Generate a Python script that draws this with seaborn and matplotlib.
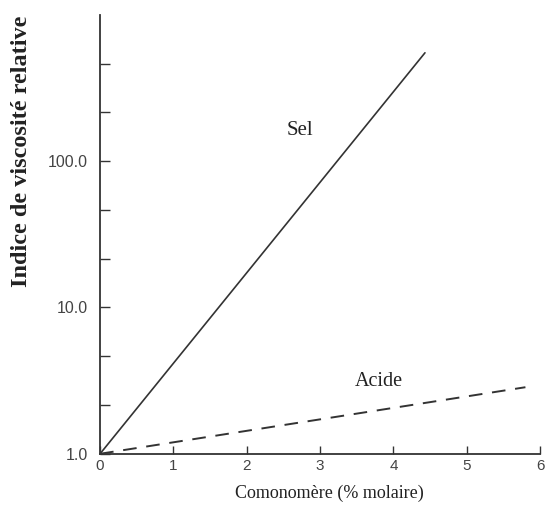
import numpy as np
import pandas as pd
import matplotlib
matplotlib.use('Agg')
import matplotlib.pyplot as plt
import matplotlib.ticker as mticker
import seaborn as sns

# values (straight lines on a log axis)
sel_x = [0.0, 4.43]
sel_y = [1.0, 550.0]
acide_x = [0.0, 5.8]
acide_y = [1.0, 2.85]

x_ticks = [0, 1, 2, 3, 4, 5, 6]
y_major = [1, 10, 100]
y_labels = ['1.0', '10.0', '100.0']

sns.set_style('ticks')
serif = ['Liberation Serif', 'DejaVu Serif']
sans = ['Liberation Sans', 'DejaVu Sans']
plt.rcParams['font.family'] = serif

fig = plt.figure(figsize=(5.5, 5.11), dpi=100)
ax = fig.add_axes([0.182, 0.112, 0.80, 0.859])

col = '#333333'
sel = pd.DataFrame({'x': sel_x, 'y': sel_y})
acide = pd.DataFrame({'x': acide_x, 'y': acide_y})
sns.lineplot(data=sel, x='x', y='y', ax=ax, color=col, lw=1.2)
sns.lineplot(data=acide, x='x', y='y', ax=ax, color=col, lw=1.4, linestyle=(0, (7, 5)))

ax.set_yscale('log')
ax.set_xlim(0, 6)
ax.set_ylim(1, 1000)

ax.set_xticks(x_ticks)
ax.set_xticklabels([str(t) for t in x_ticks], family=sans, fontsize=11, color='#444444')
ax.yaxis.set_major_locator(mticker.FixedLocator(y_major))
ax.yaxis.set_major_formatter(mticker.FixedFormatter(y_labels))
minor = [10 ** (k / 3) for k in range(1, 9) if k % 3 != 0]
ax.yaxis.set_minor_locator(mticker.FixedLocator(minor))
ax.yaxis.set_minor_formatter(mticker.NullFormatter())
for lab in ax.get_yticklabels():
    lab.set_family(sans)
    lab.set_fontsize(11.5)
    lab.set_color('#444444')

ax.tick_params(axis='both', which='both', direction='in', color=col, width=1.0)
ax.tick_params(axis='y', which='both', length=7, pad=9)
ax.tick_params(axis='x', which='major', length=5.5, pad=4)

for s in ['top', 'right']:
    ax.spines[s].set_visible(False)
for s in ['left', 'bottom']:
    ax.spines[s].set_color(col)
    ax.spines[s].set_linewidth(1.3)

ax.set_xlabel('Comonomère (% molaire)', fontsize=13, color='#222222')
ax.xaxis.set_label_coords(0.52, -0.07)
ax.set_ylabel('Indice de viscosité relative', fontsize=17.5, fontweight='bold',
              color='#222222')
ax.yaxis.set_label_coords(-0.155, 0.69)

ax.text(2.73, 162, 'Sel', ha='center', va='center', fontsize=15, color='#222222')
ax.text(3.8, 3.1, 'Acide', ha='center', va='center', fontsize=14.5, color='#222222')

fig.savefig('out.png', dpi=100)
